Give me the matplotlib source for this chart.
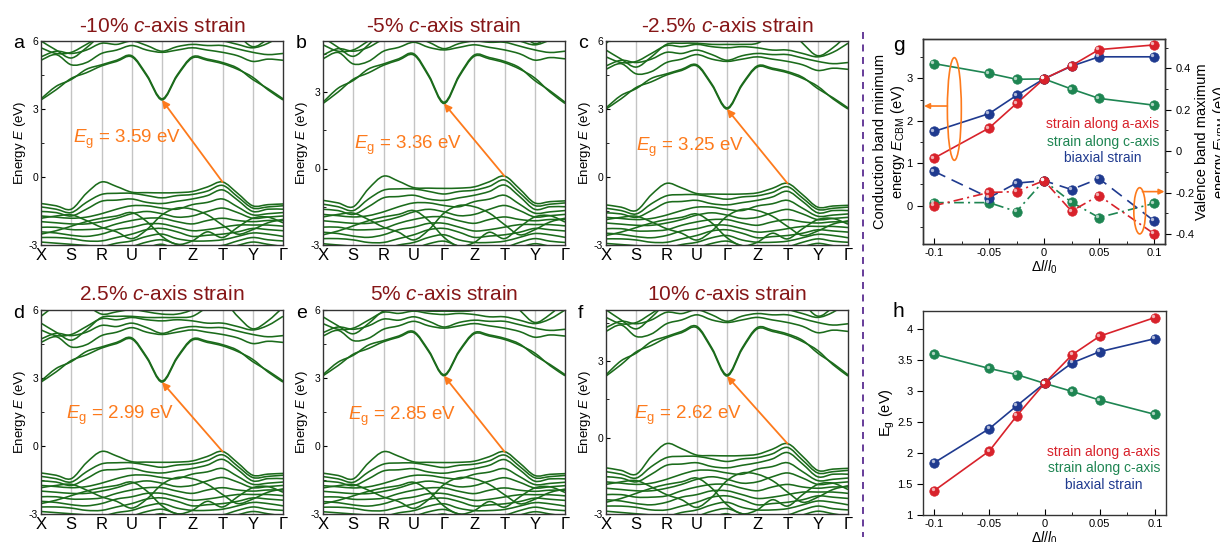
import matplotlib
matplotlib.use('Agg')
import matplotlib.pyplot as plt
import numpy as np
from matplotlib.path import Path
from matplotlib.patches import PathPatch, Ellipse
from matplotlib.lines import Line2D
from matplotlib.ticker import MultipleLocator, FormatStrFormatter
import matplotlib.transforms as mtransforms

plt.rcParams['font.family'] = ['Liberation Sans', 'DejaVu Sans']
plt.rcParams['mathtext.fontset'] = 'custom'
plt.rcParams['mathtext.rm'] = 'Liberation Sans'
plt.rcParams['mathtext.it'] = 'Liberation Sans:italic'
plt.rcParams['axes.unicode_minus'] = False
plt.rcParams['lines.scale_dashes'] = False

# ---------------- band structure data ----------------
k_labels = ['X', 'S', 'R', 'U', 'Γ', 'Z', 'T', 'Y', 'Γ']
k_nodes = [0, 0.5, 1, 1.5, 2, 2.5, 3, 3.5, 4, 4.5, 5, 5.5, 6, 6.5, 7, 7.5, 8]

# conduction bands, energy above the CBM (eV)
cb1 = [0.0, 0.45, 0.95, 1.2, 1.5, 1.7, 1.9, 1.05, 0.0, 1.05, 1.85, 1.75, 1.6, 1.35, 1.0, 0.45, 0.0]
cb2 = [0.05, 0.6, 0.9, 1.35, 1.55, 1.75, 1.95, 1.1, 0.05, 1.1, 1.9, 1.8, 1.65, 1.4, 0.9, 0.5, 0.05]
cb3 = [1.75, 2.0, 1.55, 1.65, 2.05, 2.2, 2.4, 2.2, 2.1, 2.2, 2.3, 2.2, 2.1, 1.95, 1.7, 1.8, 1.75]
cb4 = [1.9, 2.15, 2.05, 2.2, 2.5, 2.45, 2.6, 2.4, 2.15, 2.35, 2.45, 2.4, 2.4, 2.25, 2.1, 2.0, 2.05]
cb5 = [2.3, 2.05, 2.1, 2.45, 2.8, 2.75, 2.85, 2.75, 2.7, 2.75, 2.7, 2.6, 2.6, 2.45, 2.3, 2.5, 2.9]
cb6 = [2.6, 2.2, 1.85, 2.3, 2.85, 2.9, 2.9, 2.85, 2.85, 2.85, 2.9, 3.3, 3.6, 2.9, 2.35, 2.7, 3.3]
cb7 = [2.9, 3.4, 3.7, 3.4, 3.0, 3.1, 3.2, 3.1, 3.0, 3.0, 3.2, 3.7, 4.2, 3.6, 3.3, 3.6, 3.9]
cond_bands = [cb1, cb2, cb3, cb4, cb5, cb6, cb7]

# valence bands, energy relative to the VBM at T (eV)
vb1 = [-0.95, -1.05, -1.2, -0.5, 0.0, -0.2, -0.45, -0.47, -0.48, -0.47, -0.42, -0.22, 0.0, -0.5, -1.05, -1.0, -0.97]
vb2 = [-1.1, -1.2, -1.35, -0.9, -0.55, -0.5, -0.5, -0.6, -0.7, -0.6, -0.55, -0.4, -0.15, -0.65, -1.15, -1.1, -1.05]
vb3 = [-1.3, -1.35, -1.5, -1.2, -0.85, -0.8, -0.75, -0.9, -0.95, -0.85, -0.75, -0.6, -0.35, -0.8, -1.3, -1.2, -1.2]
vb4 = [-1.5, -1.55, -1.6, -1.55, -1.4, -1.2, -1.05, -1.05, -1.15, -1.2, -1.0, -0.9, -0.75, -1.1, -1.45, -1.4, -1.35]
vb5 = [-1.75, -1.8, -1.85, -1.85, -1.75, -1.6, -1.4, -1.3, -1.4, -1.55, -1.5, -1.3, -1.15, -1.35, -1.6, -1.55, -1.5]
vb6 = [-2.0, -2.0, -2.1, -2.1, -2.05, -1.85, -1.7, -1.6, -1.6, -1.75, -1.85, -1.7, -1.6, -1.7, -1.75, -1.7, -1.7]
vb7 = [-2.2, -2.25, -2.35, -2.4, -2.3, -2.1, -2.0, -1.85, -1.85, -2.0, -2.15, -2.1, -2.0, -1.9, -1.9, -1.9, -1.95]
vb8 = [-2.45, -2.45, -2.5, -2.6, -2.6, -2.45, -2.3, -2.1, -2.05, -2.2, -2.4, -2.35, -2.3, -2.2, -2.05, -2.1, -2.15]
vb9 = [-2.65, -2.7, -2.75, -2.8, -2.85, -2.7, -2.6, -2.4, -2.3, -2.5, -2.6, -2.6, -2.55, -2.4, -2.25, -2.3, -2.4]
vb10 = [-2.9, -2.95, -3.0, -3.05, -3.1, -3.0, -2.85, -2.65, -2.55, -2.75, -2.85, -2.85, -2.8, -2.6, -2.45, -2.55, -2.6]
vb11 = [-1.6, -1.5, -1.45, -1.7, -2.0, -2.2, -2.5, -2.1, -1.45, -1.15, -1.2, -1.45, -1.9, -2.3, -2.1, -1.8, -1.65]
vb12 = [-2.3, -2.15, -1.95, -1.75, -1.6, -1.5, -1.35, -1.75, -2.4, -2.75, -2.6, -2.2, -2.45, -2.0, -1.6, -1.55, -1.8]
vb13 = [-3.1, -3.2, -3.2, -3.3, -3.3, -3.2, -3.1, -2.9, -2.75, -3.0, -3.1, -3.05, -3.0, -2.8, -2.65, -2.75, -2.85]
val_bands = [vb1, vb2, vb3, vb4, vb5, vb6, vb7, vb8, vb9, vb10, vb11, vb12, vb13]

panel_letters = ['a', 'b', 'c', 'd', 'e', 'f']
panel_titles = [r'-10% $c$-axis strain', r'-5% $c$-axis strain', r'-2.5% $c$-axis strain',
                r'2.5% $c$-axis strain', r'5% $c$-axis strain', r'10% $c$-axis strain']
eg_labels = ['3.59', '3.36', '3.25', '2.99', '2.85', '2.62']
cbm_values = [3.40, 2.55, 3.00, 2.82, 3.10, 2.41]
vbm_values = [-0.22, -0.30, -0.28, -0.24, -0.25, -0.24]
ymax_values = [6, 5, 6, 6, 6, 5]
eg_text_x = [1.06, 1.02, 1.0, 0.83, 0.82, 0.93]
eg_text_y = [1.50, 0.76, 1.16, 1.17, 1.14, 0.73]

# ---------------- strain dependence data ----------------
strain = [-0.1, -0.05, -0.025, 0, 0.025, 0.05, 0.1]
cbm_a = [1.12, 1.83, 2.41, 2.99, 3.30, 3.68, 3.79]
cbm_c = [3.35, 3.12, 2.98, 2.99, 2.75, 2.53, 2.37]
cbm_bi = [1.75, 2.17, 2.60, 2.99, 3.29, 3.51, 3.51]
vbm_a = [-0.263, -0.199, -0.195, -0.142, -0.289, -0.214, -0.398]
vbm_c = [-0.248, -0.248, -0.291, -0.142, -0.246, -0.320, -0.252]
vbm_bi = [-0.097, -0.224, -0.154, -0.142, -0.185, -0.132, -0.336]
eg_a = [1.39, 2.03, 2.60, 3.12, 3.58, 3.88, 4.18]
eg_c = [3.59, 3.36, 3.26, 3.12, 2.99, 2.85, 2.62]
eg_bi = [1.84, 2.39, 2.76, 3.12, 3.45, 3.63, 3.84]
legend_labels = ['strain along a-axis', 'strain along c-axis', 'biaxial strain']
strain_ticks = [-0.1, -0.05, 0, 0.05, 0.1]
strain_ticklabels = ['-0.1', '-0.05', '0', '0.05', '0.1']

W, H = 1220, 542
DARKRED = '#861617'
BANDGREEN = '#1b6b1b'
ORANGE = '#fd7a1c'
RED = '#d8222b'
GREEN = '#1e8552'
BLUE = '#1f3a8f'


def smooth_path(xs, ys):
    pts = np.column_stack([xs, ys]).astype(float)
    ext = np.vstack([pts[0], pts, pts[-1]])
    verts = [pts[0]]
    codes = [Path.MOVETO]
    for i in range(len(pts) - 1):
        p0, p1, p2, p3 = ext[i], ext[i + 1], ext[i + 2], ext[i + 3]
        verts += [p1 + (p2 - p0) / 6, p2 - (p3 - p1) / 6, p2]
        codes += [Path.CURVE4] * 3
    return Path(verts, codes)


fig = plt.figure(figsize=(W / 100, H / 100), dpi=100)

col_left = [41, 323, 606]
row_bottom = [245, 514]
title_base = [32, 300.5]
letter_x = [13, 296, 578]
letter_base = [48.3, 318.3]

for i in range(6):
    row, col = divmod(i, 3)
    ax = fig.add_axes([col_left[col] / W, 1 - row_bottom[row] / H, 242 / W, 204 / H])
    for k in range(1, 8):
        ax.axvline(k, color='#c4c4c4', lw=1.0, zorder=1)
    for band in cond_bands:
        ys = [cbm_values[i] + v for v in band]
        ax.add_patch(PathPatch(smooth_path(k_nodes, ys), fill=False, ec=BANDGREEN, lw=1.15, zorder=2))
    for band in val_bands:
        ys = [vbm_values[i] + v for v in band]
        ax.add_patch(PathPatch(smooth_path(k_nodes, ys), fill=False, ec=BANDGREEN, lw=1.15, zorder=2))
    ax.set_xlim(0, 8)
    ax.set_ylim(-3, ymax_values[i])
    ax.set_xticks(range(9))
    ax.set_xticklabels(k_labels, fontsize=12)
    ax.tick_params(axis='x', length=0, pad=2)
    yt = [-3, 0, 3, 6] if ymax_values[i] == 6 else [-3, 0, 3]
    ax.set_yticks(yt)
    ax.set_yticklabels([str(v) for v in yt])
    ax.yaxis.set_minor_locator(MultipleLocator(1.5))
    ax.tick_params(axis='y', which='both', direction='in', labelsize=7.5, pad=2)
    ax.tick_params(axis='y', which='major', length=3)
    ax.tick_params(axis='y', which='minor', length=2)
    ax.set_ylabel('Energy $E$ (eV)', fontsize=9.5, labelpad=1)
    for s in ax.spines.values():
        s.set_color('#333333')
        s.set_linewidth(1.0)
    ax.annotate('', xy=(4, cbm_values[i]), xytext=(6, vbm_values[i]),
                arrowprops=dict(arrowstyle='-|>', color=ORANGE, lw=1.3,
                                mutation_scale=11, shrinkA=0, shrinkB=0), zorder=5)
    ax.text(eg_text_x[i], eg_text_y[i], r'$E_{\rm g}$ = ' + eg_labels[i] + ' eV',
            color=ORANGE, fontsize=13.5, ha='left', va='baseline', zorder=6)
    fig.text((col_left[col] + 121) / W, 1 - title_base[row] / H, panel_titles[i],
             ha='center', va='baseline', fontsize=15, color=DARKRED)
    fig.text(letter_x[col] / W, 1 - letter_base[row] / H, panel_letters[i],
             ha='left', va='baseline', fontsize=14)


def sphere(ax, x, y, color, z=3):
    ax.plot(x, y, 'o', ms=6.8, mfc=color, mec=color, mew=0.5, zorder=z)
    off = mtransforms.offset_copy(ax.transData, fig=fig, x=-1.1, y=1.1, units='points')
    ax.plot(x, y, 'o', ms=2.4, mfc='white', mec='none', alpha=0.65, transform=off, zorder=z + 0.1)


def style_strain_axes(ax):
    ax.set_xlim(-0.11, 0.11)
    ax.set_xticks(strain_ticks)
    ax.set_xticklabels(strain_ticklabels)
    ax.xaxis.set_minor_locator(MultipleLocator(0.025))
    ax.tick_params(axis='x', which='both', direction='in', labelsize=8, pad=3)
    ax.tick_params(axis='x', which='major', length=4)
    ax.tick_params(axis='x', which='minor', length=2.5)
    ax.tick_params(axis='y', which='both', direction='out', labelsize=8)
    ax.tick_params(axis='y', which='major', length=4)
    ax.tick_params(axis='y', which='minor', length=2.5)
    for s in ax.spines.values():
        s.set_color('#333333')
        s.set_linewidth(1.0)
    ax.set_xlabel(r'$\Delta l/l_0$', fontsize=10, labelpad=0)


# ---------------- panel g ----------------
axg = fig.add_axes([923 / W, 1 - 244.3 / H, 242 / W, 205.3 / H])
style_strain_axes(axg)
axg.set_ylim(-0.91, 3.93)
axg.set_yticks([0, 1, 2, 3])
axg.set_yticklabels(['0', '1', '2', '3'])
axg.yaxis.set_minor_locator(MultipleLocator(0.5))
axg.set_ylabel('Conduction band minimum\nenergy $E_{\\rm CBM}$ (eV)', fontsize=10.5, linespacing=1.15)
axg.yaxis.set_label_coords(-0.068, 0.5)

axg2 = axg.twinx()
axg2.set_ylim(-0.449, 0.541)
axg2.set_yticks([-0.4, -0.2, 0, 0.2, 0.4])
axg2.set_yticklabels(['-0.4', '-0.2', '0', '0.2', '0.4'])
axg2.yaxis.set_minor_locator(MultipleLocator(0.1))
axg2.tick_params(axis='y', which='both', direction='out', labelsize=8)
axg2.tick_params(axis='y', which='major', length=4)
axg2.tick_params(axis='y', which='minor', length=2.5)
for s in axg2.spines.values():
    s.set_color('#333333')
    s.set_linewidth(1.0)
axg2.set_ylabel('Valence band maximum\nenergy $E_{\\rm VBM}$ (eV)', fontsize=10.5, linespacing=1.15)
axg2.yaxis.set_label_coords(1.125, 0.5)

for ys, c in [(cbm_c, GREEN), (cbm_bi, BLUE), (cbm_a, RED)]:
    axg.plot(strain, ys, '-', color=c, lw=1.2, zorder=2)
    sphere(axg, strain, ys, c)

axg2.plot(strain, vbm_c, color=GREEN, lw=1.2, dashes=(7, 3, 1.5, 3), zorder=2)
sphere(axg2, strain, vbm_c, GREEN)
axg2.plot(strain, vbm_bi, color=BLUE, lw=1.2, dashes=(9, 5), zorder=2)
sphere(axg2, strain, vbm_bi, BLUE)
axg2.plot(strain, vbm_a, color=RED, lw=1.2, dashes=(7, 3, 1.5, 3), zorder=2)
sphere(axg2, strain, vbm_a, RED)

axg.add_patch(Ellipse((-0.0815, 2.28), 0.0127, 2.42, fill=False, ec=ORANGE, lw=1.2, zorder=6))
axg.annotate('', xy=(-0.109, 2.35), xytext=(-0.0878, 2.35),
             arrowprops=dict(arrowstyle='-|>', color=ORANGE, lw=1.2, mutation_scale=8,
                             shrinkA=0, shrinkB=0), zorder=6)
axg2.add_patch(Ellipse((0.087, -0.2875), 0.0107, 0.223, fill=False, ec=ORANGE, lw=1.2, zorder=6))
axg2.annotate('', xy=(0.1095, -0.195), xytext=(0.0895, -0.195),
              arrowprops=dict(arrowstyle='-|>', color=ORANGE, lw=1.2, mutation_scale=8,
                              shrinkA=0, shrinkB=0), zorder=6)

for lab, c, yy in zip(legend_labels, [RED, GREEN, BLUE], [0.584, 0.50, 0.42]):
    axg.text(0.744, yy, lab, color=c, fontsize=10, ha='center', va='center', transform=axg.transAxes)

# ---------------- panel h ----------------
axh = fig.add_axes([923 / W, 1 - 515 / H, 243 / W, 204 / H])
style_strain_axes(axh)
axh.set_ylim(1, 4.285)
axh.set_yticks([1, 1.5, 2, 2.5, 3, 3.5, 4])
axh.yaxis.set_major_formatter(FormatStrFormatter('%g'))
axh.set_ylabel(r'E$_{\rm g}$ (eV)', fontsize=10.5)
axh.yaxis.set_label_coords(-0.105, 0.5)
for ys, c in [(eg_c, GREEN), (eg_bi, BLUE), (eg_a, RED)]:
    axh.plot(strain, ys, '-', color=c, lw=1.2, zorder=2)
    sphere(axh, strain, ys, c)
for lab, c, yy in zip(legend_labels, [RED, GREEN, BLUE], [0.31, 0.229, 0.147]):
    axh.text(0.745, yy, lab, color=c, fontsize=10, ha='center', va='center', transform=axh.transAxes)

fig.text(893 / W, 1 - 51 / H, 'g', ha='left', va='baseline', fontsize=15)
fig.text(892 / W, 1 - 316.7 / H, 'h', ha='left', va='baseline', fontsize=15)

fig.add_artist(Line2D([863 / W, 863 / W], [1 - 32 / H, 1 - 537 / H], transform=fig.transFigure,
                      color='#5a2d91', lw=1.3, dashes=(5, 4)))

fig.savefig('out.png', dpi=100)
